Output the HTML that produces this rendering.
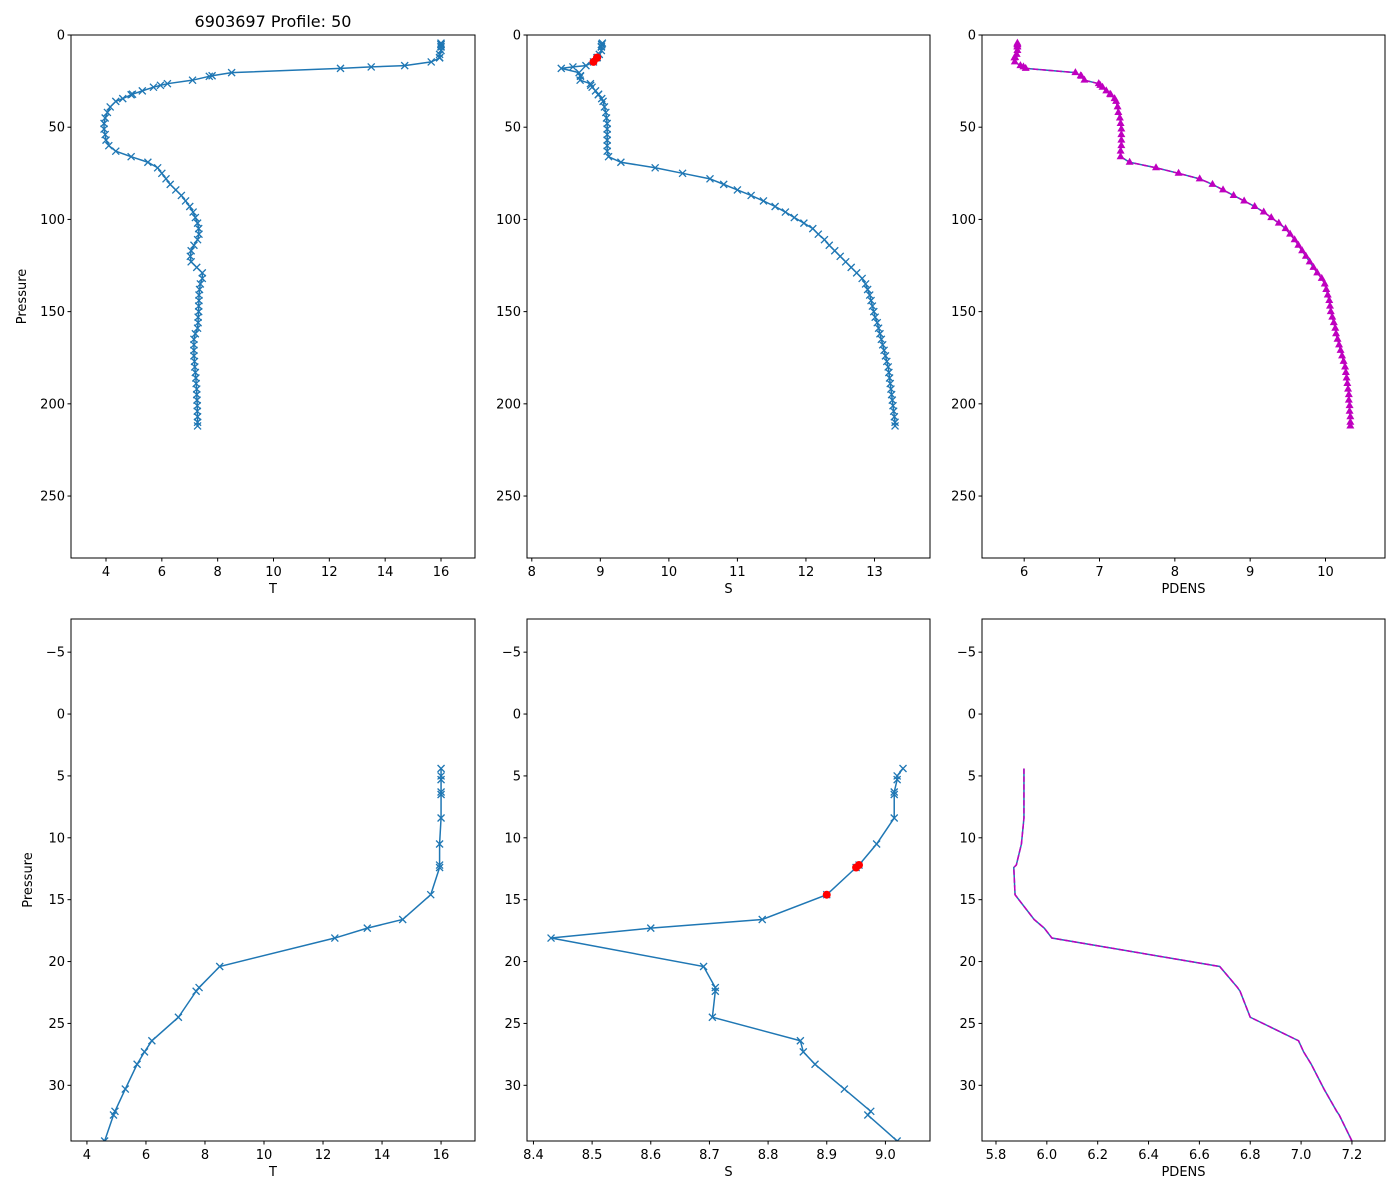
<!DOCTYPE html>
<html><head><meta charset="utf-8">
<style>
html,body{margin:0;padding:0;background:#fff;width:1400px;height:1200px;overflow:hidden;}
svg{display:block;font-family:"DejaVu Sans","Liberation Sans",sans-serif;}
</style></head>
<body>
<svg id="fig" width="1400" height="1200" viewBox="0 0 1400 1200" xmlns="http://www.w3.org/2000/svg">
<rect width="1400" height="1200" fill="#fff"/>
<text x="273" y="27" font-size="16" text-anchor="middle">6903697 Profile: 50</text>
</svg>
<script>
const pressure=[4.4,5.0,5.3,6.3,6.5,8.4,10.5,12.2,12.4,14.6,16.6,17.3,18.1,20.4,22.1,22.4,24.5,26.4,27.3,28.3,30.3,32.1,32.4,34.5,
36,39,42,45,48,51,54,57,60,63,66,69,72,75,78,81,84,87,90,93,96,99,102,105,108,111,114,117,120,123,126,129,132,135,138,141,144,147,150,153,156,159,162,165,168,171,174,177,180,183,186,189,192,195,198,201,204,207,210,212];
const temperature=[16.0,16.0,16.0,16.0,16.0,16.0,15.95,15.95,15.95,15.65,14.7,13.5,12.4,8.5,7.8,7.7,7.1,6.2,5.95,5.7,5.3,4.95,4.9,4.6,
4.35,4.15,4.05,3.97,3.93,3.93,3.97,4.0,4.1,4.35,4.9,5.5,5.85,6.0,6.15,6.3,6.5,6.7,6.85,7.0,7.12,7.2,7.28,7.32,7.33,7.28,7.15,7.05,7.02,7.05,7.25,7.45,7.45,7.38,7.35,7.33,7.33,7.32,7.32,7.3,7.3,7.28,7.2,7.15,7.15,7.15,7.15,7.17,7.18,7.2,7.22,7.23,7.25,7.25,7.26,7.27,7.27,7.28,7.28,7.28];
const salinity=[9.03,9.02,9.02,9.015,9.015,9.015,8.985,8.955,8.95,8.90,8.79,8.60,8.43,8.69,8.71,8.71,8.705,8.855,8.86,8.88,8.93,8.975,8.97,9.02,
9.04,9.06,9.08,9.09,9.1,9.1,9.1,9.1,9.1,9.1,9.12,9.3,9.8,10.2,10.6,10.8,11.0,11.2,11.38,11.55,11.7,11.83,11.97,12.1,12.18,12.27,12.34,12.42,12.5,12.58,12.66,12.74,12.82,12.87,12.9,12.93,12.95,12.97,12.99,13.01,13.04,13.06,13.08,13.1,13.12,13.14,13.16,13.18,13.2,13.21,13.22,13.23,13.24,13.25,13.26,13.27,13.28,13.29,13.3,13.3];
const pdens=[5.91,5.91,5.91,5.91,5.91,5.91,5.90,5.88,5.87,5.875,5.95,5.99,6.02,6.68,6.75,6.76,6.80,6.99,7.01,7.04,7.09,7.14,7.15,7.20,
7.22,7.24,7.25,7.27,7.28,7.29,7.29,7.29,7.29,7.28,7.28,7.4,7.75,8.05,8.33,8.5,8.64,8.78,8.92,9.06,9.18,9.28,9.38,9.47,9.53,9.59,9.64,9.69,9.74,9.79,9.84,9.89,9.95,9.99,10.01,10.03,10.05,10.06,10.07,10.09,10.11,10.13,10.14,10.16,10.18,10.2,10.22,10.24,10.26,10.27,10.28,10.29,10.3,10.31,10.31,10.32,10.32,10.33,10.33,10.33];
const flaggedP=[12.2,12.4,14.6];
const flaggedS=[8.955,8.95,8.90];
const topYTicks=[0,50,100,150,200,250];
const botYTicks=[-5,0,5,10,15,20,25,30];
const tTicksTop=[4,6,8,10,12,14,16];
const sTicksTop=[8,9,10,11,12,13];
const dTicksTop=[6,7,8,9,10];
const tTicksBot=[4,6,8,10,12,14,16];
const sTicksBot=[8.4,8.5,8.6,8.7,8.8,8.9,9.0];
const dTicksBot=[5.8,6.0,6.2,6.4,6.6,6.8,7.0,7.2];

const NS='http://www.w3.org/2000/svg';
const svg=document.getElementById('fig');
function mk(tag,attrs,parent){const e=document.createElementNS(NS,tag);for(const k in attrs)e.setAttribute(k,attrs[k]);(parent||svg).appendChild(e);return e;}
const BLUE='#1f77b4',MAG='#bf00bf';
let clipId=0;
function panel(o){
  const g=mk('g',{});
  
  
  const sx=v=>o.x0+(v-o.xmin)/(o.xmax-o.xmin)*(o.x1-o.x0);
  const sy=v=>o.y0+(v-o.ymin)/(o.ymax-o.ymin)*(o.y1-o.y0);
  const cid='clip'+(clipId++);
  const cp=mk('clipPath',{id:cid},g);mk('rect',{x:o.x0,y:o.y0,width:o.x1-o.x0,height:o.y1-o.y0},cp);
  const dg=mk('g',{'clip-path':'url(#'+cid+')'},g);
  const xs=o.xv;
  const idx=[];pressure.forEach((p,i)=>{if(p<=o.ymax+0.01)idx.push(i);});
  let d='';idx.forEach((i,k)=>{d+=(k?'L':'M')+sx(xs[i]).toFixed(2)+','+sy(pressure[i]).toFixed(2);});
  const line=mk('path',{d:d,fill:'none',stroke:BLUE,'stroke-width':1.5},dg);
  
  
  if(o.dens){
    const dl=mk('path',{d:d,fill:'none',stroke:MAG,'stroke-width':1.5,'stroke-dasharray':'5.5,2.4'},dg);
    
    
  }
  if(o.xmark){
    idx.forEach(i=>{const X=sx(xs[i]),Y=sy(pressure[i]);
      const m=mk('path',{d:`M${X-3.5},${Y-3.5}L${X+3.5},${Y+3.5}M${X-3.5},${Y+3.5}L${X+3.5},${Y-3.5}`,stroke:BLUE,'stroke-width':1.3},dg);
      
      
    });
  }
  if(o.tri){
    idx.forEach(i=>{const X=sx(xs[i]),Y=sy(pressure[i]);
      const m=mk('path',{d:`M${X},${Y-4.5}L${X+4},${Y+2.5}L${X-4},${Y+2.5}Z`,fill:MAG},dg);
      
      
    });
  }
  if(o.flag){
    flaggedP.forEach((p,i)=>{
      const c=mk('circle',{cx:sx(flaggedS[i]),cy:sy(p),r:4,fill:'#ff0000'},dg);
      
      
    });
  }
  const fr=mk('rect',{x:o.x0,y:o.y0,width:o.x1-o.x0,height:o.y1-o.y0,fill:'none',stroke:'#000','stroke-width':1},g);
  
  
  o.xt.forEach(v=>{const X=sx(v);
    mk('line',{x1:X,x2:X,y1:o.y1,y2:o.y1+3.5,stroke:'#000'},g);
    const t=mk('text',{x:X,y:o.y1+18,'font-size':13,'text-anchor':'middle'},g);
    t.textContent=o.xfmt?o.xfmt(v):String(v);
    
    
  });
  o.yt.forEach(v=>{const Y=sy(v);
    mk('line',{x1:o.x0-3.5,x2:o.x0,y1:Y,y2:Y,stroke:'#000'},g);
    const t=mk('text',{x:o.x0-6,y:Y+4.5,'font-size':13,'text-anchor':'end'},g);
    t.textContent=v<0?'\u2212'+(-v):String(v);
    
    
  });
  const xl=mk('text',{x:(o.x0+o.x1)/2,y:o.y1+35,'font-size':13,'text-anchor':'middle'},g);
  xl.textContent=o.xlabel;
  
  
  if(o.ylabel){
    const yl=mk('text',{x:o.ylx,y:(o.y0+o.y1)/2,'font-size':13,'text-anchor':'middle',transform:`rotate(-90 ${o.ylx} ${(o.y0+o.y1)/2})`},g);
    yl.textContent='Pressure';
    
    
  }
}
const topCfg={y0:35,y1:558,ymin:0,ymax:283.6,yt:topYTicks};
const botCfg={y0:619,y1:1141,ymin:-7.68,ymax:34.5,yt:botYTicks};
panel(Object.assign({name:'temperature-panel-full',x0:71,x1:475,xmin:2.746,xmax:17.218,xv:temperature,xt:tTicksTop,xlabel:'T',xmark:1,ylabel:1,ylx:26},topCfg));
panel(Object.assign({name:'salinity-panel-full',x0:527,x1:930,xmin:7.93,xmax:13.81,xv:salinity,xt:sTicksTop,xlabel:'S',xmark:1,flag:1},topCfg));
panel(Object.assign({name:'density-panel-full',x0:982,x1:1385,xmin:5.44,xmax:10.79,xv:pdens,xt:dTicksTop,xlabel:'PDENS',dens:1,tri:1},topCfg));
panel(Object.assign({name:'temperature-panel-zoom',x0:71,x1:475,xmin:3.46,xmax:17.15,xv:temperature,xt:tTicksBot,xlabel:'T',xmark:1,ylabel:1,ylx:32},botCfg));
panel(Object.assign({name:'salinity-panel-zoom',x0:527,x1:930,xmin:8.389,xmax:9.076,xv:salinity,xt:sTicksBot,xlabel:'S',xmark:1,flag:1,xfmt:v=>v.toFixed(1)},botCfg));
panel(Object.assign({name:'density-panel-zoom',x0:982,x1:1385,xmin:5.745,xmax:7.33,xv:pdens,xt:dTicksBot,xlabel:'PDENS',dens:1,xfmt:v=>v.toFixed(1)},botCfg));
</script>
</body></html>
